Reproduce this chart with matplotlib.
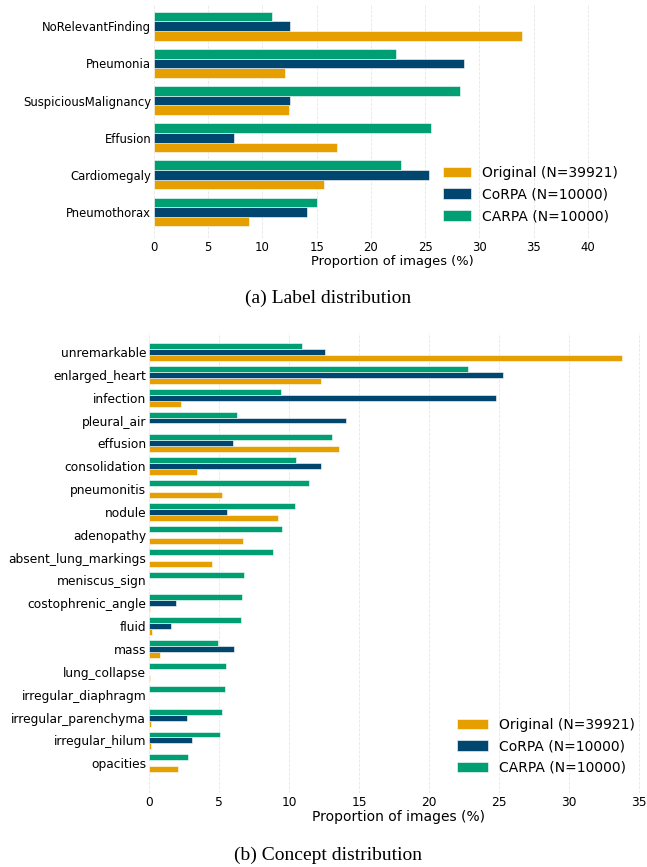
import matplotlib.pyplot as plt
import numpy as np

# label distribution (a)
labels = ['NoRelevantFinding', 'Pneumonia', 'SuspiciousMalignancy',
          'Effusion', 'Cardiomegaly', 'Pneumothorax']
label_original = [33.9, 12.1, 12.4, 16.9, 15.7, 8.8]
label_corpa = [12.5, 28.6, 12.5, 7.4, 25.3, 14.1]
label_carpa = [10.9, 22.3, 28.2, 25.5, 22.8, 15.0]

# concept distribution (b)
concepts = ['unremarkable', 'enlarged_heart', 'infection', 'pleural_air',
            'effusion', 'consolidation', 'pneumonitis', 'nodule',
            'adenopathy', 'absent_lung_markings', 'meniscus_sign',
            'costophrenic_angle', 'fluid', 'mass', 'lung_collapse',
            'irregular_diaphragm', 'irregular_parenchyma', 'irregular_hilum',
            'opacities']
concept_original = [33.8, 12.3, 2.3, 0.0, 13.6, 3.4, 5.2, 9.2, 6.7, 4.5,
                    0.0, 0.05, 0.2, 0.75, 0.06, 0.0, 0.12, 0.12, 2.05]
concept_corpa = [12.55, 25.3, 24.75, 14.1, 6.0, 12.25, 0.0, 5.6, 0.0, 0.0,
                 0.0, 1.95, 1.55, 6.1, 0.0, 0.0, 2.7, 3.05, 0.0]
concept_carpa = [10.95, 22.75, 9.45, 6.3, 13.1, 10.5, 11.4, 10.4, 9.5, 8.85,
                 6.75, 6.65, 6.55, 4.95, 5.5, 5.4, 5.2, 5.1, 2.8]

names = ['Original (N=39921)', 'CoRPA (N=10000)', 'CARPA (N=10000)']
colors = ['#E69F00', '#00466E', '#009E73']

W, H = 647, 867
fig = plt.figure(figsize=(W / 100, H / 100), dpi=100)


def px_axes(left, top, right, bottom):
    return fig.add_axes([left / W, 1 - bottom / H, (right - left) / W, (bottom - top) / H])


def draw(ax, cats, series, xmax, xticks, fs_tick, fs_label):
    h = 0.26
    y = np.arange(len(cats))
    offs = [h, 0, -h]
    for vals, name, col, o in zip(series, names, colors, offs):
        ax.barh(y + o, vals, height=h, color=col, label=name,
                edgecolor='white', linewidth=0.4, zorder=2)
    ax.set_yticks(y)
    ax.set_yticklabels(cats, fontsize=fs_tick)
    ax.set_xticks(xticks)
    ax.set_xticklabels([str(t) for t in xticks], fontsize=fs_tick)
    ax.set_xlim(0, xmax)
    ax.tick_params(length=0, pad=2)
    for s in ax.spines.values():
        s.set_visible(False)
    ax.grid(axis='x', linestyle='--', color='#e6e6e6', linewidth=0.6, zorder=0)
    ax.set_axisbelow(True)
    ax.set_xlabel('Proportion of images (%)', fontsize=fs_label, labelpad=1)
    h_, l_ = ax.get_legend_handles_labels()
    return h_, l_


# top chart
xmax1 = 43.9
ax1 = px_axes(154, 4, 154 + xmax1 * 10.85, 238)
hnd, lab = draw(ax1, labels, [label_original, label_corpa, label_carpa],
                xmax1, list(range(0, 45, 5)), 8.4, 9.4)
ax1.set_ylim(5.7, -0.6)
ax1.legend(hnd, lab, loc='lower right', bbox_to_anchor=(1.0, 0.01),
           frameon=False, fontsize=10, handlelength=2.0, handleheight=0.8,
           labelspacing=0.55)
fig.text(328 / W, 1 - 298 / H, '(a) Label distribution', ha='center', va='center',
         fontsize=14, family='Liberation Serif')

# bottom chart
ax2 = px_axes(149, 333, 647, 793)
hnd, lab = draw(ax2, concepts, [concept_original, concept_corpa, concept_carpa],
                35.57, list(range(0, 40, 5)), 8.8, 10)
ax2.set_ylim(19.3, -0.83)
ax2.legend(hnd, lab, loc='lower right', bbox_to_anchor=(1.0, 0.012),
           frameon=False, fontsize=10, handlelength=2.2, handleheight=0.8,
           labelspacing=0.55)
fig.text(328 / W, 1 - 855 / H, '(b) Concept distribution', ha='center', va='center',
         fontsize=14, family='Liberation Serif')

fig.savefig('out.png', dpi=100)
